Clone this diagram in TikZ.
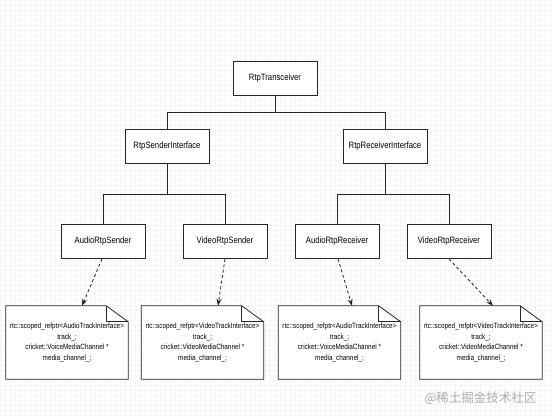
\documentclass[tikz,border=0pt]{standalone}
\usepackage{fontspec}
\setmainfont[FakeStretch=0.84]{Liberation Sans}
\newfontfamily\cjkfont{Noto Sans CJK SC}
\usetikzlibrary{arrows.meta}
\pgfdeclarelayer{gridlayer}
\pgfdeclarelayer{notelayer}
\pgfsetlayers{gridlayer,notelayer,main}
\tikzset{
  box/.style={draw=black!85, line width=0.8pt, fill=white, minimum width=84pt, minimum height=34pt, inner sep=0pt, font=\fontsize{9.2}{11}\selectfont},
  notebox/.style={draw=none, minimum width=122pt, minimum height=73pt, inner sep=0pt, align=center, font=\fontsize{7.6}{10.6}\selectfont},
  tree/.style={draw=black!85, line width=0.8pt},
  dep/.style={draw=black!85, line width=0.8pt, dash pattern=on 3pt off 2.5pt, -{Stealth[length=7pt,width=5pt]}},
  noteline/.style={draw=black!85, line width=0.8pt}
}
\begin{document}
\begin{tikzpicture}[x=1pt,y=-1pt]
\useasboundingbox (0,0) rectangle (553,417);
\begin{pgfonlayer}{gridlayer}
  \fill[white] (0,0) rectangle (553,417);
  \draw[black!4, line width=0.4pt] (0,0) grid[step=5pt] (553,417);
\end{pgfonlayer}

\node[box] (t)  at (275,78.5)  {RtpTransceiver};
\node[box] (si) at (167,146.5) {RtpSenderInterface};
\node[box] (ri) at (385,146.5) {RtpReceiverInterface};
\node[box] (as) at (103,241.5) {AudioRtpSender};
\node[box] (vs) at (225,241.5) {VideoRtpSender};
\node[box] (ar) at (337,241.5) {AudioRtpReceiver};
\node[box] (vr) at (449,241.5) {VideoRtpReceiver};

\node[notebox] (n1) at (67,342.5) {rtc::scoped\_refptr<AudioTrackInterface>\\track\_;\\cricket::VoiceMediaChannel *\\media\_channel\_;};
\node[notebox] (n2) at (202.5,342.5) {rtc::scoped\_refptr<VideoTrackInterface>\\track\_;\\cricket::VideoMediaChannel *\\media\_channel\_;};
\node[notebox] (n3) at (339.5,342.5) {rtc::scoped\_refptr<AudioTrackInterface>\\track\_;\\cricket::VoiceMediaChannel *\\media\_channel\_;};
\node[notebox] (n4) at (481,342.5) {rtc::scoped\_refptr<VideoTrackInterface>\\track\_;\\cricket::VideoMediaChannel *\\media\_channel\_;};

\begin{pgfonlayer}{notelayer}
\foreach \n in {n1,n2,n3,n4}{
  \draw[noteline, fill=white] (\n.south west) -- (\n.north west) -- ([xshift=-22pt]\n.north east) -- ([yshift=-16pt]\n.north east) -- (\n.south east) -- cycle;
  \draw[noteline] ([xshift=-22pt]\n.north east) -- ([xshift=-22pt,yshift=-16pt]\n.north east) -- ([yshift=-16pt]\n.north east);
}
\end{pgfonlayer}

\draw[tree] (si.north) -- ++(0,-17) -| (t.south);
\draw[tree] (ri.north) -- ++(0,-17) -| (t.south);
\draw[tree] (as.north) -- ++(0,-30) -| (si.south);
\draw[tree] (vs.north) -- ++(0,-30) -| (si.south);
\draw[tree] (ar.north) -- ++(0,-30) -| (ri.south);
\draw[tree] (vr.north) -- ++(0,-30) -| (ri.south);

\draw[dep] ([xshift=-1pt]as.south) -- ([xshift=15pt]n1.north);
\draw[dep] (vs.south) -- ([xshift=15.5pt]n2.north);
\draw[dep] ([xshift=1pt]ar.south) -- ([xshift=12.5pt]n3.north);
\draw[dep] (vr.south) -- ([xshift=12pt]n4.north);

\node[text=black!32, font=\cjkfont\fontsize{12.5}{14}\selectfont, anchor=east] (wm) at (540,398) {@稀土掘金技术社区};
\end{tikzpicture}
\end{document}
